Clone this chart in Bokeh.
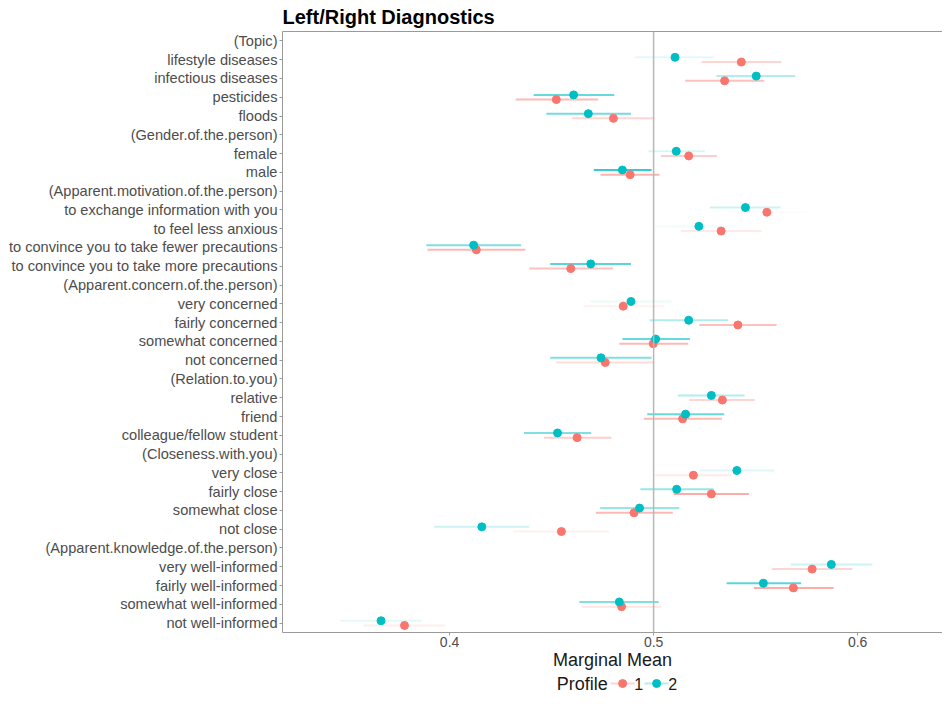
from bokeh.plotting import figure
from bokeh.layouts import column
from bokeh.models import (ColumnDataSource, FactorRange, Range1d, Span, LinearAxis,
                          FixedTicker, Label)
from bokeh.transform import dodge
from bokeh.embed import file_html
from bokeh.resources import INLINE

# ---- data -------------------------------------------------------------
rows = [
    "(Topic)", "lifestyle diseases", "infectious diseases", "pesticides", "floods",
    "(Gender.of.the.person)", "female", "male",
    "(Apparent.motivation.of.the.person)", "to exchange information with you",
    "to feel less anxious", "to convince you to take fewer precautions",
    "to convince you to take more precautions",
    "(Apparent.concern.of.the.person)", "very concerned", "fairly concerned",
    "somewhat concerned", "not concerned",
    "(Relation.to.you)", "relative", "friend", "colleague/fellow student",
    "(Closeness.with.you)", "very close", "fairly close", "somewhat close", "not close",
    "(Apparent.knowledge.of.the.person)", "very well-informed", "fairly well-informed",
    "somewhat well-informed", "not well-informed",
]

levels = [
    "lifestyle diseases", "infectious diseases", "pesticides", "floods",
    "female", "male",
    "to exchange information with you", "to feel less anxious",
    "to convince you to take fewer precautions", "to convince you to take more precautions",
    "very concerned", "fairly concerned", "somewhat concerned", "not concerned",
    "relative", "friend", "colleague/fellow student",
    "very close", "fairly close", "somewhat close", "not close",
    "very well-informed", "fairly well-informed", "somewhat well-informed", "not well-informed",
]

# Profile 1
est1 = [0.5430, 0.5348, 0.4523, 0.4803, 0.5172, 0.4885, 0.5555, 0.5331, 0.4131, 0.4594,
        0.4851, 0.5413, 0.4998, 0.4763, 0.5337, 0.5142, 0.4625, 0.5195, 0.5283, 0.4904,
        0.4548, 0.5777, 0.5685, 0.4843, 0.3779]
lo1 = [0.5235, 0.5155, 0.4324, 0.4600, 0.5036, 0.4740, 0.5360, 0.5134, 0.3892, 0.4391,
       0.4657, 0.5224, 0.4832, 0.4523, 0.5174, 0.4952, 0.4462, 0.5008, 0.5098, 0.4717,
       0.4313, 0.5580, 0.5492, 0.4650, 0.3578]
hi1 = [0.5626, 0.5542, 0.4728, 0.5004, 0.5310, 0.5029, 0.5750, 0.5528, 0.4372, 0.4801,
       0.5050, 0.5603, 0.5170, 0.5000, 0.5496, 0.5335, 0.4793, 0.5381, 0.5467, 0.5094,
       0.4782, 0.5974, 0.5882, 0.5036, 0.3976]
alpha1 = [0.30, 0.45, 0.50, 0.30, 0.35, 0.55, 0.03, 0.15, 0.50, 0.45,
          0.10, 0.45, 0.50, 0.25, 0.30, 0.50, 0.35, 0.15, 0.60, 0.50,
          0.10, 0.30, 0.60, 0.20, 0.12]

# Profile 2
est2 = [0.5105, 0.5503, 0.4608, 0.4680, 0.5111, 0.4847, 0.5450, 0.5222, 0.4118, 0.4692,
        0.4889, 0.5172, 0.5010, 0.4742, 0.5283, 0.5157, 0.4529, 0.5408, 0.5113, 0.4931,
        0.4158, 0.5871, 0.5538, 0.4832, 0.3664]
lo2 = [0.4910, 0.5308, 0.4412, 0.4474, 0.4975, 0.4707, 0.5276, 0.5008, 0.3886, 0.4493,
       0.4690, 0.4981, 0.4847, 0.4493, 0.5119, 0.4969, 0.4365, 0.5224, 0.4935, 0.4738,
       0.3924, 0.5672, 0.5358, 0.4636, 0.3465]
hi2 = [0.5297, 0.5695, 0.4807, 0.4889, 0.5251, 0.4990, 0.5622, 0.5406, 0.4351, 0.4889,
       0.5088, 0.5366, 0.5178, 0.4990, 0.5446, 0.5346, 0.4694, 0.5593, 0.5295, 0.5126,
       0.4391, 0.6072, 0.5723, 0.5025, 0.3863]
alpha2 = [0.10, 0.30, 0.60, 0.55, 0.15, 0.80, 0.20, 0.05, 0.50, 0.65,
          0.08, 0.30, 0.60, 0.50, 0.30, 0.60, 0.50, 0.12, 0.40, 0.40,
          0.20, 0.20, 0.65, 0.50, 0.10]

x_ticks = [0.4, 0.5, 0.6]
x_title = "Marginal Mean"
profiles = ["1", "2"]
legend_title = "Profile"

# ---- style --------------------------------------------------------------
RED = "#F8766D"
TEAL = "#00BFC4"
COLORS = [RED, TEAL]
FONT = "Liberation Sans"
AXIS_COL = "#9a9a9a"
TXT_COL = "#4d4d4d"
W = 942
MAIN_H = 672
STRIP_H = 692 - MAIN_H

xr = Range1d(0.3181, 0.6416)

p = figure(width=W, height=MAIN_H,
           y_range=FactorRange(factors=rows[::-1]),
           x_range=xr,
           output_backend="svg", toolbar_location=None,
           title="Left/Right Diagnostics",
           min_border_left=282, min_border_right=0,
           min_border_top=0, min_border_bottom=0)

p.outline_line_color = None
p.xgrid.visible = False
p.ygrid.visible = False

p.title.text_font = FONT
p.title.text_font_size = "20px"
p.title.text_font_style = "bold"
p.title.text_color = "black"
p.title.align = "left"
p.title.standoff = 7

p.xaxis.ticker = FixedTicker(ticks=x_ticks)
p.xaxis.axis_label = x_title
p.xaxis.axis_label_text_font = FONT
p.xaxis.axis_label_text_font_size = "18px"
p.xaxis.axis_label_text_font_style = "normal"
p.xaxis.axis_label_text_color = "#1a1a1a"
p.xaxis.axis_label_standoff = 0
p.xaxis.major_label_text_font = FONT
p.xaxis.major_label_text_font_size = "14px"
p.xaxis.major_label_text_color = TXT_COL
p.xaxis.major_label_standoff = 1
p.xaxis.axis_line_color = AXIS_COL
p.xaxis.major_tick_line_color = AXIS_COL
p.xaxis.major_tick_out = 3
p.xaxis.major_tick_in = 0
p.xaxis.minor_tick_line_color = None

p.yaxis.major_label_text_font = FONT
p.yaxis.major_label_text_font_size = "14.6px"
p.yaxis.major_label_text_color = TXT_COL
p.yaxis.major_label_standoff = 2
p.yaxis.axis_line_color = AXIS_COL
p.yaxis.major_tick_line_color = AXIS_COL
p.yaxis.major_tick_out = 3
p.yaxis.major_tick_in = 0

top_axis = LinearAxis(ticker=FixedTicker(ticks=[]), major_tick_out=0, major_tick_in=0,
                      minor_tick_out=0, minor_tick_in=0, major_label_text_font_size="0px",
                      major_label_standoff=0, axis_line_color=AXIS_COL)
p.add_layout(top_axis, "above")

p.add_layout(Span(location=0.5, dimension="height", line_color="#b8b8b8", line_width=1.5))

src1 = ColumnDataSource(dict(level=levels, est=est1, lo=lo1, hi=hi1, a=alpha1))
src2 = ColumnDataSource(dict(level=levels, est=est2, lo=lo2, hi=hi2, a=alpha2))

off = 0.125
y1 = dodge("level", -off, range=p.y_range)
y2 = dodge("level", off, range=p.y_range)

p.segment(x0="lo", x1="hi", y0=y1, y1=y1, line_color=RED, line_alpha="a",
          line_width=2, source=src1)
p.segment(x0="lo", x1="hi", y0=y2, y1=y2, line_color=TEAL, line_alpha="a",
          line_width=2, source=src2)
p.scatter(x="est", y=y1, size=8, fill_color=RED, line_color=RED, source=src1)
p.scatter(x="est", y=y2, size=8, fill_color=TEAL, line_color=TEAL, source=src2)

# ---- legend strip (shares the x scale of the main panel) ------------------
lg = figure(width=W, height=STRIP_H, x_range=xr, y_range=Range1d(0, STRIP_H),
            output_backend="svg", toolbar_location=None,
            x_axis_location=None, y_axis_location=None,
            min_border_left=282, min_border_right=0, min_border_top=0, min_border_bottom=0)
lg.grid.visible = False
lg.outline_line_color = None

PX = 1 / 2040.0          # one screen pixel in x data units
cy = 9
lg.add_layout(Label(x=0.4525, y=cy, text=legend_title, text_font=FONT, text_font_size="18px",
                    text_color="#1a1a1a", text_baseline="middle", text_align="left"))
key_x = [0.4848 + 34 * PX * i for i in range(len(profiles))]
for kx, lab, col in zip(key_x, profiles, COLORS):
    lg.segment(x0=[kx - 12 * PX], x1=[kx + 12 * PX], y0=[cy], y1=[cy], line_color=col,
               line_alpha=0.3, line_width=2)
    lg.scatter(x=[kx], y=[cy], size=8, fill_color=col, line_color=col)
    lg.add_layout(Label(x=kx + 16 * PX, y=cy, text=lab, text_font=FONT, text_font_size="16px",
                        text_color="#1a1a1a", text_baseline="middle", text_align="center"))

layout = column(p, lg, spacing=0)
open("out.html", "w").write(file_html(layout, INLINE))
